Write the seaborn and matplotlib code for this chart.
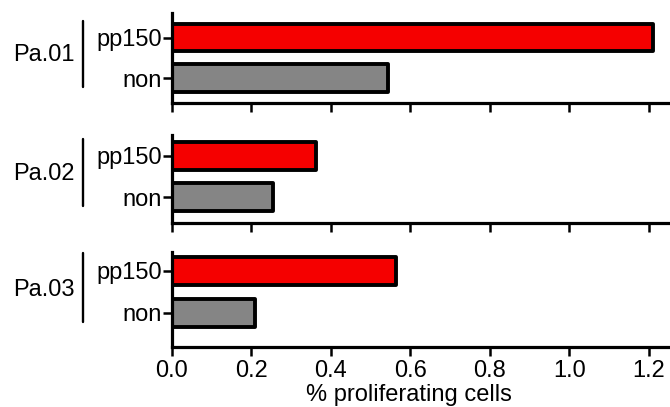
import numpy as np
import pandas as pd
import matplotlib
matplotlib.use('Agg')
import matplotlib.pyplot as plt
import seaborn as sns

# data
patients = ['Pa.01', 'Pa.02', 'Pa.03']
conditions = ['pp150', 'non']
pp150_vals = [1.21, 0.362, 0.563]
non_vals = [0.543, 0.254, 0.21]
x_ticks = [0.0, 0.2, 0.4, 0.6, 0.8, 1.0, 1.2]

rows = []
for p, a, b in zip(patients, pp150_vals, non_vals):
    rows.append({'patient': p, 'condition': 'pp150', 'value': a})
    rows.append({'patient': p, 'condition': 'non', 'value': b})
df = pd.DataFrame(rows)

sns.set_style('white')
plt.rcParams['font.family'] = ['Liberation Sans', 'DejaVu Sans']
plt.rcParams['font.size'] = 17
plt.rcParams['text.color'] = 'black'
plt.rcParams['xtick.color'] = 'black'
plt.rcParams['ytick.color'] = 'black'

fig = plt.figure(figsize=(6.7, 4.07), dpi=100)

# axes rects (left, bottom, width, height)
rects = [
    (0.2567, 0.7469, 0.7433, 0.2211),
    (0.2567, 0.4521, 0.7433, 0.2162),
    (0.2567, 0.1474, 0.7433, 0.2334),
]
ylims = [(1.617, -0.605), (1.63, -0.51), (1.81, -0.45)]
label_y = [0.42, 0.45, 0.45]
pal = {'pp150': '#f50000', 'non': '#858585'}

for i, p in enumerate(patients):
    ax = fig.add_axes(rects[i])
    sub = df[df['patient'] == p]
    sns.barplot(data=sub, y='condition', x='value', hue='condition',
                order=conditions, palette=pal, orient='h', width=0.68,
                saturation=1, edgecolor='black', linewidth=2.8,
                legend=False, ax=ax)
    for bar in ax.patches:
        bar.set_joinstyle('round')
    ax.set_xlim(0, 1.253)
    ax.set_ylim(*ylims[i])
    ax.set_xticks(x_ticks)
    ax.set_ylabel('')
    ax.set_xlabel('')
    for s in ['top', 'right']:
        ax.spines[s].set_visible(False)
    for s in ['left', 'bottom']:
        ax.spines[s].set_linewidth(2.3)
        ax.spines[s].set_color('black')
    ax.tick_params(axis='both', direction='out', length=6.5, width=1.8,
                   color='black', labelcolor='black', labelsize=17,
                   bottom=True, left=True)
    ax.tick_params(axis='y', pad=1)
    ax.tick_params(axis='x', pad=3)
    if i < 2:
        ax.set_xticklabels([])
    else:
        ax.set_xticklabels([f'{t:.1f}' for t in x_ticks])
        ax.set_xlabel('% proliferating cells', fontsize=17, color='black')
        ax.xaxis.set_label_coords(0.476, -0.39)

    # group bracket and patient label
    tr = ax.get_yaxis_transform()
    ax.plot([-0.179, -0.179], [-0.42, 1.22], color='black', lw=1.7,
            transform=tr, clip_on=False)
    ax.text(-0.195, label_y[i], p, ha='right', va='center', fontsize=17,
            color='black', transform=tr)

fig.savefig('out.png', dpi=100)
